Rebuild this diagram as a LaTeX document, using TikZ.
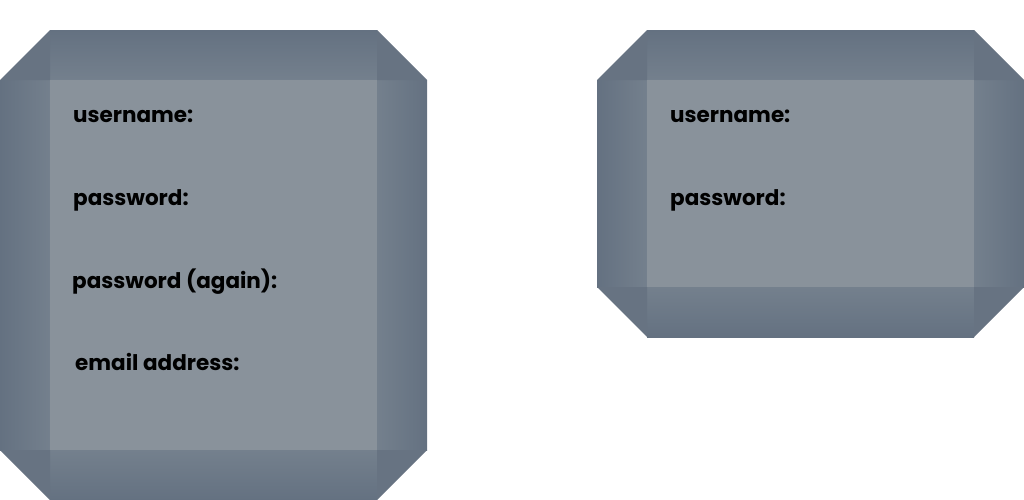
\documentclass[tikz,border=0pt]{standalone}
\usepackage{fontspec}
\setmainfont{Poppins}
\definecolor{faceGrey}{RGB}{137,146,155}
\definecolor{bevelLight}{RGB}{116,128,141}
\definecolor{bevelDark}{RGB}{100,113,129}
\definecolor{cornerGrey}{RGB}{103,115,130}
\newcommand{\bevelpanel}[4]
{   \shade[top color=bevelDark,bottom color=bevelLight] ({#1+50},#2) rectangle ({#3-50},{#2+50});
    \shade[top color=bevelLight,bottom color=bevelDark] ({#1+50},{#4-50}) rectangle ({#3-50},#4);
    \shade[left color=bevelDark,right color=bevelLight] (#1,{#2+50}) rectangle ({#1+50},{#4-50});
    \shade[left color=bevelLight,right color=bevelDark] ({#3-50},{#2+50}) rectangle (#3,{#4-50});
    \fill[cornerGrey] ({#1+50},#2) -- (#1,{#2+50}) -- ({#1+50},{#2+50}) -- cycle;
    \fill[cornerGrey] ({#3-50},#2) -- (#3,{#2+50}) -- ({#3-50},{#2+50}) -- cycle;
    \fill[cornerGrey] (#1,{#4-50}) -- ({#1+50},#4) -- ({#1+50},{#4-50}) -- cycle;
    \fill[cornerGrey] (#3,{#4-50}) -- ({#3-50},#4) -- ({#3-50},{#4-50}) -- cycle;
    \fill[faceGrey] ({#1+50},{#2+50}) rectangle ({#3-50},{#4-50});
}
\tikzset{fieldlabel/.style={anchor=base west,inner sep=0pt,font=\fontsize{21.5}{26}\selectfont\bfseries}}

\begin{document}
\begin{tikzpicture}[x=1pt,y=-1pt]
          \useasboundingbox (0,0) rectangle (1024,499);
          \bevelpanel{0}{30}{427}{500}
          \bevelpanel{597}{30}{1024}{337}
          \node[fieldlabel] (userA) at (73,122) {username:};
          \node[fieldlabel] (passA) at (73,205) {password:};
          \node[fieldlabel] (againA) at (72,288) {password (again):};
          \node[fieldlabel] (mailA) at (75,370) {email address:};
          \node[fieldlabel] (userB) at (670,122) {username:};
          \node[fieldlabel] (passB) at (670,205) {password:};
        \end{tikzpicture}
\end{document}
